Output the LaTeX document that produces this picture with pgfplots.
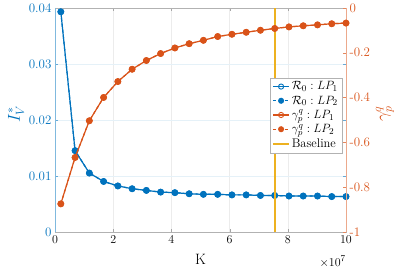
\documentclass[border=0pt]{standalone}
\usepackage{pgfplots}
\pgfplotsset{compat=1.18}
\definecolor{mblue}{rgb}{0,0.447,0.741}
\definecolor{morange}{rgb}{0.85,0.325,0.098}
\definecolor{myellow}{rgb}{0.929,0.694,0.125}
\pgfplotstableread{
x y
0.20 0.0393
0.69 0.0145
1.18 0.0105
1.67 0.0090
2.16 0.0082
2.65 0.0077
3.14 0.0074
3.63 0.0071
4.12 0.0070
4.61 0.0068
5.10 0.0067
5.59 0.0067
6.08 0.0066
6.57 0.0066
7.06 0.0065
7.55 0.0065
8.04 0.0064
8.53 0.0064
9.02 0.0064
9.51 0.0063
10.00 0.0063
}\bluedata
\pgfplotstableread{
x y
0.20 -0.875
0.69 -0.668
1.18 -0.504
1.67 -0.400
2.16 -0.329
2.65 -0.274
3.14 -0.235
3.63 -0.204
4.12 -0.179
4.61 -0.160
5.10 -0.145
5.59 -0.128
6.08 -0.118
6.57 -0.109
7.06 -0.100
7.55 -0.092
8.04 -0.085
8.53 -0.080
9.02 -0.076
9.51 -0.071
10.00 -0.068
}\orangedata
\begin{document}
\begin{tikzpicture}
\pgfplotsset{
  common/.style={
    width=291pt, height=224pt, scale only axis,
    xmin=0, xmax=10,
    scaled x ticks=false, scaled y ticks=false,
    tick align=inside,
    major tick length=3pt,
    tick label style={font=\fontsize{13}{15}\selectfont},
    xlabel style={font=\fontsize{15}{17}\selectfont, inner sep=0pt},
    ylabel style={font=\fontsize{18}{20}\selectfont, inner sep=0pt},
  }
}
\begin{axis}[common, name=ax,
  ymin=0, ymax=0.04,
  xtick={0,2,4,6,8,10},
  ytick={0,0.01,0.02,0.03,0.04},
  yticklabels={0,0.01,0.02,0.03,0.04},
  yticklabel style={mblue},
  axis line style={gray!60},
  ytick style={mblue!60},
  xtick style={gray!70},
  xmajorgrids, ymajorgrids,
  x grid style={gray!15},
  y grid style={mblue!10},
  xlabel={K},
  ylabel={$I_V^*$},
  ylabel style={mblue, at={(axis description cs:-0.134,0.527)}, anchor=center},
  xlabel style={at={(axis description cs:0.5,-0.124)}, anchor=center},
  after end axis/.code={
    \draw[mblue!50] (rel axis cs:0,0) -- (rel axis cs:0,1);
    \node[anchor=north east, font=\fontsize{13}{15}\selectfont, inner sep=0pt] at (rel axis cs:1,0) [yshift=-24pt] {$\times 10^{7}$};
  },
]
\addplot[mblue, line width=1.2pt, mark=o, mark size=2.8pt, mark options={solid, line width=1pt}] table[x=x,y=y] {\bluedata};
\addplot[mblue, line width=1.2pt, dashed, mark=*, mark size=2.8pt, mark options={solid}] table[x=x,y=y] {\bluedata};
\end{axis}
\begin{axis}[common,
  ymin=-1, ymax=0,
  axis x line=none,
  axis y line*=right,
  axis line style={-, morange!50},
  ytick={-1,-0.8,-0.6,-0.4,-0.2,0},
  yticklabels={-1,-0.8,-0.6,-0.4,-0.2,0},
  yticklabel style={morange},
  ytick style={morange!70},
  ylabel={$\gamma_p^q$},
  ylabel style={morange, at={(axis description cs:1.134,0.527)}, anchor=center, rotate=0},
  legend style={at={(axis description cs:0.986,0.689)}, anchor=north east,
    draw=gray!60, fill=white, font=\fontsize{12.5}{14}\selectfont,
    row sep=0.5pt, inner sep=2pt, cells={anchor=west}},
  legend image code/.code={
    \draw[#1] (0cm,0cm) -- (0.55cm,0cm);
    \draw[#1, only marks] plot coordinates {(0.275cm,0cm)};
  },
]
\addlegendimage{mblue, line width=1.2pt, mark=o, mark size=2.6pt, mark options={solid, line width=0.9pt, fill=white}}
\addlegendentry{$\mathcal{R}_0: LP_1$}
\addlegendimage{mblue, line width=1.2pt, dashed, mark=*, mark size=2.4pt, mark options={solid}}
\addlegendentry{$\mathcal{R}_0: LP_2$}
\addplot[morange, line width=1.2pt, mark=o, mark size=2.8pt, mark options={solid, line width=1pt}, forget plot] table[x=x,y=y] {\orangedata};
\addlegendimage{morange, line width=1.2pt, mark=o, mark size=2.6pt, mark options={solid, line width=0.9pt, fill=white}}
\addlegendentry{$\gamma_p^q: LP_1$}
\addplot[morange, line width=1.2pt, dashed, mark=*, mark size=2.8pt, mark options={solid}, forget plot] table[x=x,y=y] {\orangedata};
\addlegendimage{morange, line width=1.2pt, dashed, mark=*, mark size=2.4pt, mark options={solid}}
\addlegendentry{$\gamma_p^q: LP_2$}
\addplot[draw=myellow, line width=1.8pt, forget plot] coordinates {(7.57,-1) (7.57,0)};
\addlegendimage{draw=myellow, line width=1.8pt}
\addlegendentry{Baseline}
\end{axis}
\path (ax.south west) ++(-55pt,-37pt) rectangle ([xshift=57pt,yshift=7pt]ax.north east);
\end{tikzpicture}
\end{document}
